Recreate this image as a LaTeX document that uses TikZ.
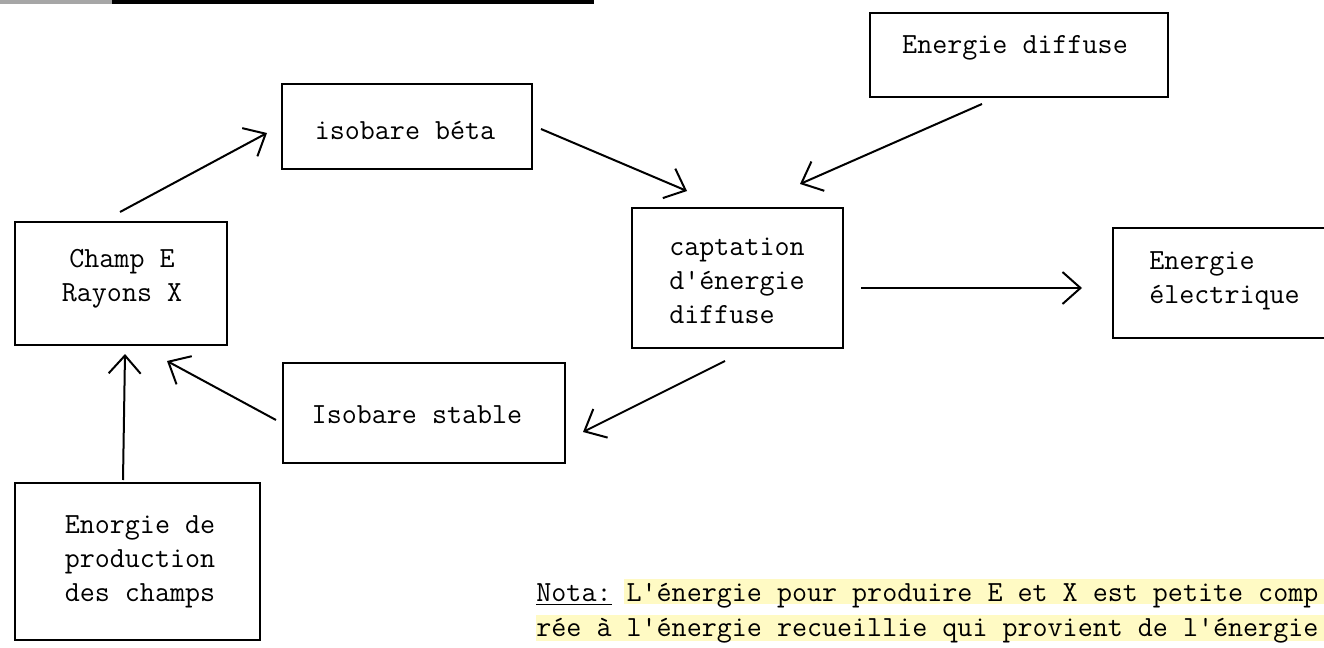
\documentclass[tikz,border=0pt]{standalone}
\usetikzlibrary{arrows.meta}
\definecolor{hl}{RGB}{255,250,196}
\newcommand\myq{\textquotesingle}
\begin{document}
\begin{tikzpicture}[x=0.5pt,y=-0.5pt,
  box/.style={draw, line width=1pt, inner sep=0pt, anchor=center},
  txt/.style={font=\ttfamily\fontsize{14.6}{17}\selectfont, inner sep=0pt, align=center},
  arr/.style={line width=1pt, -{Straight Barb[length=9pt,width=16pt,line width=1pt]}}]
\useasboundingbox (0,0) rectangle (1324,648);
\fill[white] (0,0) rectangle (1324,648);
% top rule
\draw[line width=2pt, black!35] (0,2) -- (112,2);
\draw[line width=2pt] (112,2) -- (594,2);
% boxes
\node[box, minimum width=106pt, minimum height=61.5pt] (champ) at (121,283.5) {};
\node[box, minimum width=125pt, minimum height=42.5pt] (beta) at (407,126.5) {};
\node[box, minimum width=122.5pt, minimum height=78.5pt] (enorg) at (137.5,561.5) {};
\node[box, minimum width=141pt, minimum height=50pt] (iso) at (424,413) {};
\node[box, minimum width=105.5pt, minimum height=70pt] (capt) at (737.5,278) {};
\node[box, minimum width=149pt, minimum height=42pt] (ediff) at (1019,55) {};
\node[box, minimum width=116pt, minimum height=55pt] (elec) at (1229,283) {};
% texts
\node[txt] (champT) at (122,279) {Champ E\\Rayons X};
\node[txt] (betaT) at (405,130) {isobare béta};
\node[txt] (enorgT) at (140,562) {Enorgie de\\production\\des champs};
\node[txt] (isoT) at (417,415) {Isobare stable};
\node[txt, align=left] (captT) at (737,281) {captation\\d\myq énergie\\diffuse};
\node[txt] (ediffT) at (1015,48) {Energie diffuse};
\node[txt, align=left] (elecT) at (1224.5,280.5) {Energie\\électrique};
% arrows
\draw[arr] ([shift={(-1,-9)}]champ.north) -- ([shift={(-14,6.5)}]beta.west);
\draw[arr] ([shift={(8,2.5)}]beta.east) -- ([shift={(-50.5,-16)}]capt.north);
\draw[arr] ([shift={(-37,6)}]ediff.south) -- ([shift={(62.5,-23)}]capt.north);
\draw[arr] ([shift={(17,10)}]capt.east) -- ([shift={(-30,5)}]elec.west);
\draw[arr] ([shift={(-12.5,12)}]capt.south) -- ([shift={(17,19)}]iso.east);
\draw[arr] ([shift={(-6,7)}]iso.west) -- ([shift={(46,15)}]champ.south);
\draw[arr] ([shift={(-14.5,-2)}]enorg.north) -- ([shift={(4,8)}]champ.south);
% nota
\fill[hl] (624,579) rectangle (1324,604);
\fill[hl] (536,615) rectangle (1324,641);
\node[txt, align=left, anchor=base west, font=\ttfamily\fontsize{14.6}{17.5}\selectfont] (nota) at (536,636)
  {\underline{Nota:} L\myq énergie pour produire E et X est petite comp\\rée à l\myq énergie recueillie qui provient de l\myq énergie};
\end{tikzpicture}
\end{document}
